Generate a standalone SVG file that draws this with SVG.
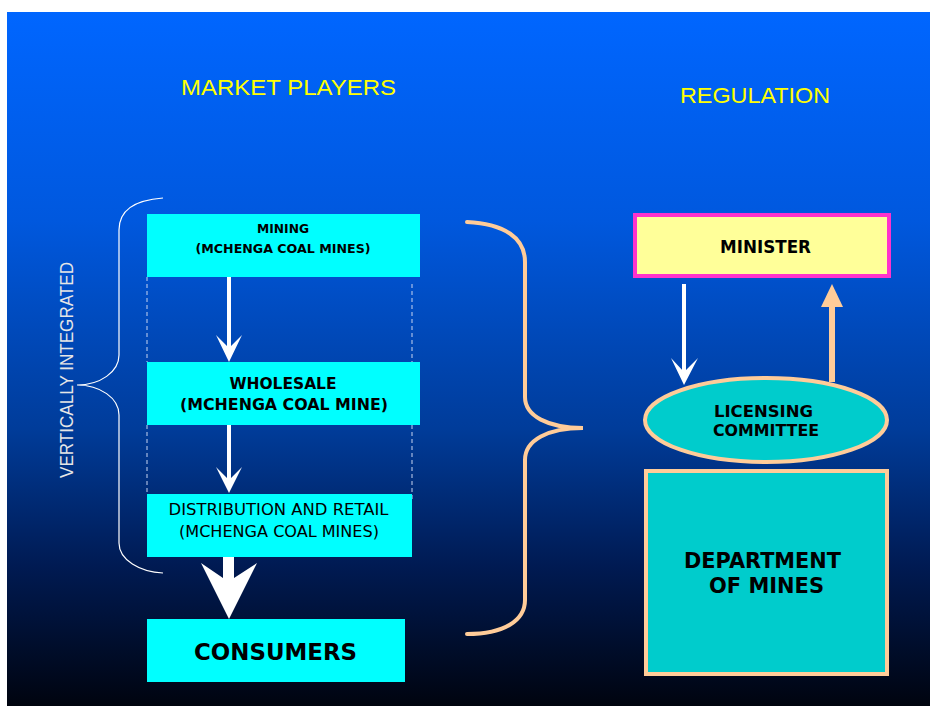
<svg xmlns="http://www.w3.org/2000/svg" width="930" height="706" viewBox="0 0 930 706">
<defs>
<linearGradient id="bg" x1="0" y1="0" x2="0" y2="1">
<stop offset="0" stop-color="#0066ff"/>
<stop offset="0.3" stop-color="#0058de"/>
<stop offset="0.6" stop-color="#003c9a"/>
<stop offset="0.8" stop-color="#001a52"/>
<stop offset="1" stop-color="#00040f"/>
</linearGradient>
</defs>
<style>
.title{font-family:"Liberation Sans",Arial,sans-serif;font-size:22px;fill:#ffff00;}
.box{fill:#00ffff;}
.b{font-family:"DejaVu Sans",Verdana,sans-serif;font-weight:bold;fill:#000;text-anchor:middle;}
.r{font-family:"DejaVu Sans",Verdana,sans-serif;fill:#000;text-anchor:middle;}
.dash{stroke:#c8d4f0;stroke-width:1;stroke-dasharray:4,3;fill:none;}
.wa{fill:#fff;}
.peach{stroke:#ffcc99;stroke-width:4;fill:none;}
</style>
<rect x="0" y="0" width="930" height="706" fill="#fff"/>
<rect x="7" y="12" width="923" height="694" fill="url(#bg)"/>
<text class="title" x="181" y="95" textLength="215" lengthAdjust="spacingAndGlyphs">MARKET PLAYERS</text>
<text class="title" x="680" y="103" textLength="150" lengthAdjust="spacingAndGlyphs">REGULATION</text>
<g id="vertically-integrated">
<path d="M163,198 C135,200 119,210 119,230 L119,355 C119,372 100,385 77,385 C100,385 119,398 119,415 L119,543 C119,560 140,572 163,573" fill="none" stroke="#ffffff" stroke-width="1.2"/>
<text x="73" y="370" transform="rotate(-90 73 370)" text-anchor="middle" font-family="Liberation Sans,Arial,sans-serif" font-size="19" fill="#e6e6e6" textLength="216" lengthAdjust="spacingAndGlyphs">VERTICALLY INTEGRATED</text>
</g>
<g id="connectors">
<line class="dash" x1="147" y1="277" x2="147" y2="362"/>
<line class="dash" x1="412" y1="284" x2="412" y2="370"/>
<line class="dash" x1="147" y1="425" x2="147" y2="494"/>
<line class="dash" x1="412" y1="425" x2="412" y2="502"/>
<rect class="wa" x="227" y="277" width="4" height="72"/>
<polygon class="wa" points="216,335 229,348 242,335 229,362"/>
<rect class="wa" x="227" y="425" width="4" height="56"/>
<polygon class="wa" points="216,467 229,480 242,467 229,493"/>
<polygon class="wa" points="223,557 234,557 234,578 257,563 229,619 201,563 223,578"/>
<path class="peach" d="M467,222 C505,224 525,238 525,262 L525,397 C525,416 548,428 583,428 C548,428 525,440 525,460 L525,600 C525,620 505,634 467,634" stroke-linecap="round"/>
<rect class="wa" x="682" y="284" width="4" height="88"/>
<polygon class="wa" points="671,358 684,372 698,358 684,385"/>
<rect x="829" y="305" width="6" height="77" fill="#ffcc99"/>
<polygon points="821,307 832,284 843,307" fill="#ffcc99"/>
</g>
<g id="mining">
<rect class="box" x="147" y="214" width="273" height="63"/>
<text class="b" x="283" y="233" font-size="12" textLength="52" lengthAdjust="spacingAndGlyphs">MINING</text>
<text class="b" x="283" y="253" font-size="12" textLength="175" lengthAdjust="spacingAndGlyphs">(MCHENGA COAL MINES)</text>
</g>
<g id="wholesale">
<rect class="box" x="147" y="362" width="273" height="63"/>
<text class="b" x="283" y="389" font-size="15" textLength="107" lengthAdjust="spacingAndGlyphs">WHOLESALE</text>
<text class="b" x="284" y="410" font-size="15" textLength="208" lengthAdjust="spacingAndGlyphs">(MCHENGA COAL MINE)</text>
</g>
<g id="distribution">
<rect class="box" x="147" y="494" width="265" height="63"/>
<text class="r" x="278.5" y="515" font-size="15" textLength="220" lengthAdjust="spacingAndGlyphs">DISTRIBUTION AND RETAIL</text>
<text class="r" x="279" y="537" font-size="15" textLength="200" lengthAdjust="spacingAndGlyphs">(MCHENGA COAL MINES)</text>
</g>
<g id="consumers">
<rect class="box" x="147" y="619" width="258" height="63"/>
<text class="b" x="275.5" y="660" font-size="23" textLength="163" lengthAdjust="spacingAndGlyphs">CONSUMERS</text>
</g>
<g id="minister">
<rect x="635" y="215" width="254" height="61" fill="#ffff99" stroke="#ff33cc" stroke-width="4"/>
<text class="b" x="765.5" y="253" font-size="17" textLength="91" lengthAdjust="spacingAndGlyphs">MINISTER</text>
</g>
<g id="licensing-committee">
<ellipse cx="766" cy="420" rx="121" ry="42" fill="#00cccc" stroke="#ffcc99" stroke-width="4"/>
<text class="b" x="763.5" y="417" font-size="15" textLength="99" lengthAdjust="spacingAndGlyphs">LICENSING</text>
<text class="b" x="766" y="436" font-size="15" textLength="106" lengthAdjust="spacingAndGlyphs">COMMITTEE</text>
</g>
<g id="department-of-mines">
<rect x="646" y="471" width="241" height="203" fill="#00cccc" stroke="#ffcc99" stroke-width="4"/>
<text class="b" x="762.5" y="568" font-size="21" textLength="157" lengthAdjust="spacingAndGlyphs">DEPARTMENT</text>
<text class="b" x="766.5" y="593" font-size="21" textLength="115" lengthAdjust="spacingAndGlyphs">OF MINES</text>
</g>
</svg>
